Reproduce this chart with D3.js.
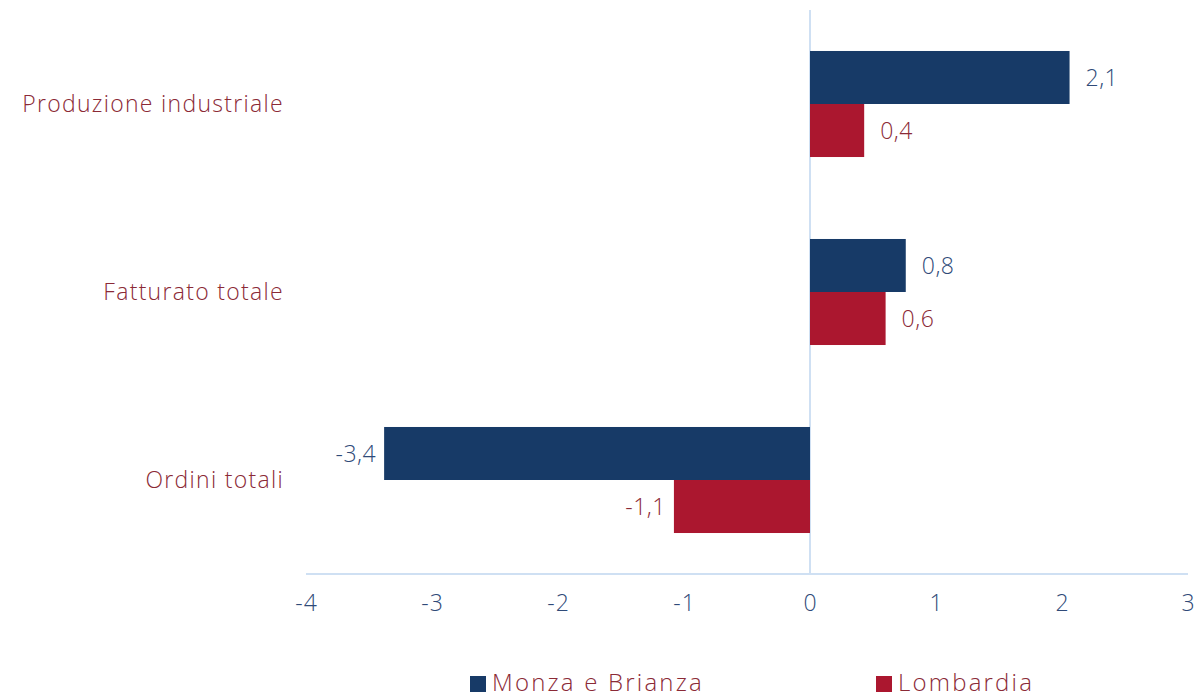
<!DOCTYPE html>
<html>
<head>
<meta charset="utf-8">
<script src="https://cdn.jsdelivr.net/npm/d3@7"></script>
<style>
  body { margin: 0; background: #fff; }
  svg { display: block; font-family: "Open Sans", sans-serif; font-weight: 300; }
</style>
</head>
<body>
<script>
var categories = ["Produzione industriale", "Fatturato totale", "Ordini totali"];
var seriesNames = ["Monza e Brianza", "Lombardia"];
var monza = [2.06, 0.76, -3.38];
var lombardia = [0.43, 0.6, -1.08];
var tickValues = [-4, -3, -2, -1, 0, 1, 2, 3];

var width = 1196, height = 699;
var barColors = ["#173a67", "#ab172f"];
var labelColors = ["#2f4a78", "#8b2a36"];
var catColor = "#8b2a36";
var axisColor = "#cfe0f3";

var rows = categories.map(function(c, i) {
    return { cat: c, values: [monza[i], lombardia[i]] };
});

var svg = d3.select("body").append("svg")
    .attr("width", width)
    .attr("height", height);

var x = d3.scaleLinear().domain([-4, 3]).range([306, 1188]);

var y = d3.scaleBand()
    .domain(categories)
    .range([10, 574])
    .paddingInner(0.436)
    .paddingOuter(0.218);

var ySub = d3.scaleBand()
    .domain([0, 1])
    .range([0, y.bandwidth()]);

var fmt = function(v) { return v.toFixed(1).replace(".", ","); };

// axis line at bottom
svg.append("line")
    .attr("x1", x(-4)).attr("x2", x(3))
    .attr("y1", 574).attr("y2", 574)
    .attr("stroke", axisColor).attr("stroke-width", 2);

// zero line
svg.append("line")
    .attr("x1", x(0)).attr("x2", x(0))
    .attr("y1", 10).attr("y2", 574)
    .attr("stroke", axisColor).attr("stroke-width", 2);

// tick labels (plain hyphen like the original)
var xAxis = svg.append("g")
    .attr("transform", "translate(0,574)")
    .call(d3.axisBottom(x).tickValues(tickValues).tickSize(0).tickPadding(21)
        .tickFormat(function(d) { return String(d); }));
xAxis.select(".domain").remove();
xAxis.selectAll("text")
    .attr("fill", labelColors[0])
    .style("font-family", "'Open Sans', sans-serif")
    .style("font-weight", 300)
    .style("font-size", "23px")
    .style("letter-spacing", "1px");

var groups = svg.selectAll(".cat")
    .data(rows)
    .enter().append("g")
    .attr("class", "cat")
    .attr("transform", function(d) { return "translate(0," + y(d.cat) + ")"; });

groups.selectAll("rect")
    .data(function(d) { return d.values; })
    .enter().append("rect")
    .attr("x", function(v) { return x(Math.min(0, v)); })
    .attr("y", function(v, i) { return ySub(i); })
    .attr("width", function(v) { return Math.abs(x(v) - x(0)); })
    .attr("height", ySub.bandwidth())
    .attr("fill", function(v, i) { return barColors[i]; });

groups.selectAll(".val")
    .data(function(d) { return d.values; })
    .enter().append("text")
    .attr("class", "val")
    .attr("x", function(v) { return v >= 0 ? x(v) + 16 : x(v) - 8; })
    .attr("y", function(v, i) { return ySub(i) + ySub.bandwidth() / 2; })
    .attr("dy", "0.35em")
    .attr("text-anchor", function(v) { return v >= 0 ? "start" : "end"; })
    .attr("fill", function(v, i) { return labelColors[i]; })
    .style("font-size", "23px")
    .style("letter-spacing", "0.5px")
    .text(function(v) { return fmt(v); });

// category labels
svg.selectAll(".catlabel")
    .data(categories)
    .enter().append("text")
    .attr("class", "catlabel")
    .attr("x", 284)
    .attr("y", function(d) { return y(d) + y.bandwidth() / 2; })
    .attr("dy", "0.35em")
    .attr("text-anchor", "end")
    .attr("fill", catColor)
    .style("font-size", "23px")
    .style("letter-spacing", "1.3px")
    .text(function(d) { return d; });

// legend
var legendX = [470, 876];
var legend = svg.selectAll(".legend")
    .data(seriesNames)
    .enter().append("g")
    .attr("class", "legend")
    .attr("transform", function(d, i) { return "translate(" + legendX[i] + ",676)"; });

legend.append("rect")
    .attr("width", 16).attr("height", 16)
    .attr("fill", function(d, i) { return barColors[i]; });

legend.append("text")
    .attr("x", 22)
    .attr("y", 15)
    .attr("fill", catColor)
    .style("font-size", "24px")
    .style("letter-spacing", "2.2px")
    .text(function(d) { return d; });
</script>
</body>
</html>
